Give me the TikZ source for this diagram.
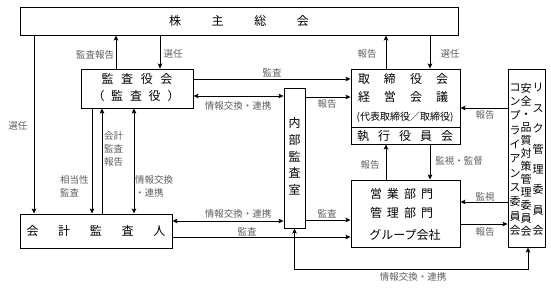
\documentclass[tikz,border=0pt]{standalone}
\usepackage{fontspec}
\setmainfont{Noto Sans CJK JP}
\usetikzlibrary{arrows.meta}
\definecolor{labgray}{RGB}{95,95,95}
\tikzset{
  box/.style={draw, line width=0.9pt, inner sep=0pt},
  btxt/.style={inner sep=0pt, font=\fontsize{12}{14}\selectfont},
  lab/.style={inner sep=0pt, text=labgray, font=\fontsize{9.5}{13}\selectfont},
  conn/.style={line width=0.9pt, -{Stealth[length=5pt,width=4.5pt,inset=1pt]}},
  dconn/.style={line width=0.9pt, {Stealth[length=5pt,width=4.5pt,inset=1pt]}-{Stealth[length=5pt,width=4.5pt,inset=1pt]}},
  plain/.style={line width=0.9pt}
}
\begin{document}
\begin{tikzpicture}[x=1pt,y=-1pt]
\useasboundingbox (0,0) rectangle (551,290);
% boxes
\node[box, minimum width=438pt, minimum height=28pt, font=\fontsize{12}{14}\selectfont] (top) at (239,21) {\makebox[140pt]{株\hfill 主\hfill 総\hfill 会}};
\node[box, minimum width=112pt, minimum height=39pt] (kansa) at (137,88.5) {};
\node[btxt] (kansa1) at (137,79) {\makebox[71pt]{監\hfill 査\hfill 役\hfill 会}};
\node[btxt] (kansa2) at (136,96) {\makebox[87pt]{（\hfill 監\hfill 査\hfill 役\hfill ）}};
\node[box, minimum width=21pt, minimum height=140pt] (naibu) at (294.5,158) {};
\node[btxt, align=center, font=\fontsize{12}{16.75}\selectfont] (naibut) at (294.5,156.5) {内\\部\\監\\査\\室};
\node[box, minimum width=109pt, minimum height=75pt] (tori) at (405.5,106.5) {};
\draw[plain] (tori.west |- 0,127) -- (tori.east |- 0,127);
\node[btxt] (tori1) at (403,79) {\makebox[90pt]{取\hfill 締\hfill 役\hfill 会}};
\node[btxt] (tori2) at (403,97) {\makebox[90pt]{経\hfill 営\hfill 会\hfill 議}};
\node[btxt, font=\fontsize{10}{12}\selectfont] (tori3) at (405,117) {(代表取締役／取締役)};
\node[btxt] (tori4) at (405,136) {\makebox[96pt]{執\hfill 行\hfill 役\hfill 員\hfill 会}};
\node[box, minimum width=109pt, minimum height=67pt] (eigyo) at (405.5,213.5) {};
\node[btxt] (eig1) at (401.5,194) {\makebox[63pt]{営\hfill 業\hfill 部\hfill 門}};
\node[btxt] (eig2) at (401.5,213) {\makebox[63pt]{管\hfill 理\hfill 部\hfill 門}};
\node[btxt] (eig3) at (405,235) {グループ会社};
\node[box, minimum width=37pt, minimum height=178pt] (comm) at (526.5,158) {};
\node[btxt, align=center, font=\fontsize{11}{14.3}\selectfont] (comm1) at (515,159.5) {コ\\ン\\プ\\ラ\\イ\\ア\\ン\\ス\\委\\員\\会};
\node[btxt, align=center, font=\fontsize{11}{13}\selectfont] (comm2) at (526,159.5) {安\\全\\・\\品\\質\\対\\策\\管\\理\\委\\員\\会};
\node[btxt, align=center, font=\fontsize{11}{20.4}\selectfont] (comm3) at (538,159.5) {リ\\ス\\ク\\管\\理\\委\\員\\会};
\node[box, minimum width=152pt, minimum height=34pt, font=\fontsize{12}{14}\selectfont] (kaikei) at (96,231) {\makebox[139pt]{会\hfill 計\hfill 監\hfill 査\hfill 人}};
% connectors
\draw[conn] (top.south -| 34,0) -- (kaikei.north -| 34,0);
\node[lab] (l1) at (18,126) {選任};
\draw[conn] (kansa.north -| 116,0) -- (top.south -| 116,0);
\node[lab] (l2) at (95,55) {監査報告};
\draw[conn] (top.south -| 160,0) -- (kansa.north -| 160,0);
\node[lab] (l3) at (173,54) {選任};
\draw[conn] (kansa.east |- 0,79) -- (tori.west |- 0,79);
\node[lab] (l4) at (272,73) {監査};
\draw[dconn] (kansa.east |- 0,96) -- (naibu.west |- 0,96);
\node[lab] (l5) at (238,106) {情報交換・連携};
\draw[conn] (naibu.east |- 0,97) -- (tori.west |- 0,97);
\node[lab] (l6) at (327,104) {報告};
\draw[conn] (tori.north -| 386,0) -- (top.south -| 386,0);
\node[lab] (l7) at (367,54) {報告};
\draw[conn] (top.south -| 430,0) -- (tori.north -| 430,0);
\node[lab] (l8) at (450,54) {選任};
\draw[conn] (comm.west |- 0,108) -- (tori.east |- 0,108);
\node[lab] (l9) at (485,115) {報告};
\draw[conn] (eigyo.north -| 386,0) -- (tori.south -| 386,0);
\node[lab] (l10) at (370,165) {報告};
\draw[conn] (tori.south -| 430,0) -- (eigyo.north -| 430,0);
\node[lab] (l11) at (459,161) {監視・監督};
\draw[conn] (comm.west |- 0,202) -- (eigyo.east |- 0,202);
\node[lab] (l12) at (485,197) {監視};
\draw[conn] (eigyo.east |- 0,224) -- (comm.west |- 0,224);
\node[lab] (l13) at (485,232) {報告};
\draw[conn] (naibu.east |- 0,220) -- (eigyo.west |- 0,220);
\node[lab] (l14) at (327,214) {監査};
\draw[conn] (kaikei.east |- 0,237) -- (eigyo.west |- 0,237);
\node[lab] (l15) at (247,232) {監査};
\draw[dconn] (kaikei.east |- 0,221) -- (naibu.west |- 0,221);
\node[lab] (l16) at (238,214) {情報交換・連携};
\coordinate (b1) at (294.5,269);
\coordinate (b2) at (528,269);
\draw[dconn] (naibu.south) -- (b1) -- (b2) -- (comm.south -| b2);
\node[lab] (l17) at (413,277) {情報交換・連携};
\draw[conn] (kansa.south -| 92,0) -- (kaikei.north -| 92,0);
\node[lab, align=left, anchor=west] (l18) at (60,186.5) {相当性\\監査};
\draw[conn] (kaikei.north -| 102,0) -- (kansa.south -| 102,0);
\node[lab, align=left, anchor=west] (l19) at (104,148.5) {会計\\監査\\報告};
\draw[dconn] (kansa.south -| 134,0) -- (kaikei.north -| 134,0);
\node[lab, align=left, anchor=west] (l20) at (135,186.5) {情報交換\\・連携};
\end{tikzpicture}
\end{document}
